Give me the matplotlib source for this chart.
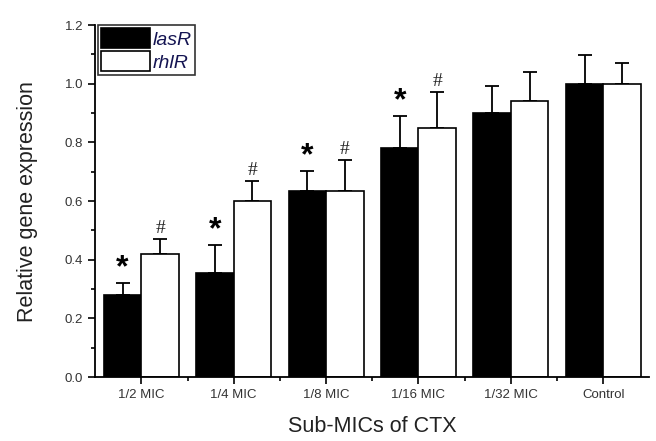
import numpy as np
import matplotlib.pyplot as plt
from matplotlib.ticker import MultipleLocator

plt.rcParams.update({"font.family": ["Liberation Sans", "DejaVu Sans"]})

categories = ["1/2 MIC", "1/4 MIC", "1/8 MIC", "1/16 MIC", "1/32 MIC", "Control"]
lasR = [0.28, 0.355, 0.634, 0.782, 0.902, 1.0]
lasR_err = [0.04, 0.094, 0.068, 0.109, 0.089, 0.097]
rhlR = [0.42, 0.60, 0.636, 0.850, 0.940, 1.0]
rhlR_err = [0.05, 0.068, 0.104, 0.121, 0.10, 0.072]
lasR_marks = ["*", "*", "*", "*", "", ""]
rhlR_marks = ["#", "#", "#", "#", "", ""]

fig = plt.figure(figsize=(6.56, 4.41), dpi=100)
ax = fig.add_axes([0.145, 0.145, 0.845, 0.798])

x = np.arange(len(categories))
w = 0.405

ax.bar(x - w / 2, lasR, w, color="black", edgecolor="black", linewidth=1.2,
       label="lasR", zorder=2)
ax.bar(x + w / 2, rhlR, w, color="white", edgecolor="black", linewidth=1.2,
       label="rhlR", zorder=2)
ax.errorbar(x - w / 2, lasR, yerr=[np.zeros(len(x)), lasR_err], fmt="none",
            ecolor="black", elinewidth=1.3, capsize=5, capthick=1.3, zorder=1)
ax.errorbar(x + w / 2, rhlR, yerr=[np.zeros(len(x)), rhlR_err], fmt="none",
            ecolor="black", elinewidth=1.3, capsize=5, capthick=1.3, zorder=1)

# significance marks
for i in range(len(x)):
    if lasR_marks[i]:
        ax.text(x[i] - w / 2, lasR[i] + lasR_err[i] + 0.0, lasR_marks[i],
                ha="center", va="bottom", fontsize=23, fontweight="bold")
    if rhlR_marks[i]:
        ax.text(x[i] + w / 2, rhlR[i] + rhlR_err[i] + 0.008, rhlR_marks[i],
                ha="center", va="bottom", fontsize=14, family="Liberation Serif",
                color="#222222")

ax.set_xlim(-0.5, 5.5)
ax.set_ylim(0, 1.2)
ax.set_xticks(x)
ax.set_xticklabels(categories, fontsize=9.5, color="#333333")
ax.set_xticks(x[:-1] + 0.5, minor=True)
ax.yaxis.set_major_locator(MultipleLocator(0.2))
ax.yaxis.set_minor_locator(MultipleLocator(0.1))
ax.set_yticklabels([f"{v:.1f}" for v in ax.get_yticks()], fontsize=9.5, color="#333333")
ax.tick_params(which="major", direction="out", length=5, width=1.2)
ax.tick_params(which="minor", direction="out", length=3, width=1.2)

for s in ["top", "right"]:
    ax.spines[s].set_visible(False)
for s in ["left", "bottom"]:
    ax.spines[s].set_linewidth(1.3)

ax.set_ylabel("Relative gene expression", fontsize=15.5, color="#222222", labelpad=19)
ax.set_xlabel("Sub-MICs of CTX", fontsize=15.5, color="#222222", labelpad=11)

leg = ax.legend(loc="upper left", bbox_to_anchor=(0.006, 1.0),
                prop={"style": "italic", "size": 14}, frameon=True,
                fancybox=False, edgecolor="black", handlelength=2.5,
                handleheight=1.2, borderpad=0.15, labelspacing=0.15,
                handletextpad=0.15, borderaxespad=0.0)
leg.get_frame().set_linewidth(1.2)
for t in leg.get_texts():
    t.set_color("#141452")

fig.savefig("out.png", dpi=100)
